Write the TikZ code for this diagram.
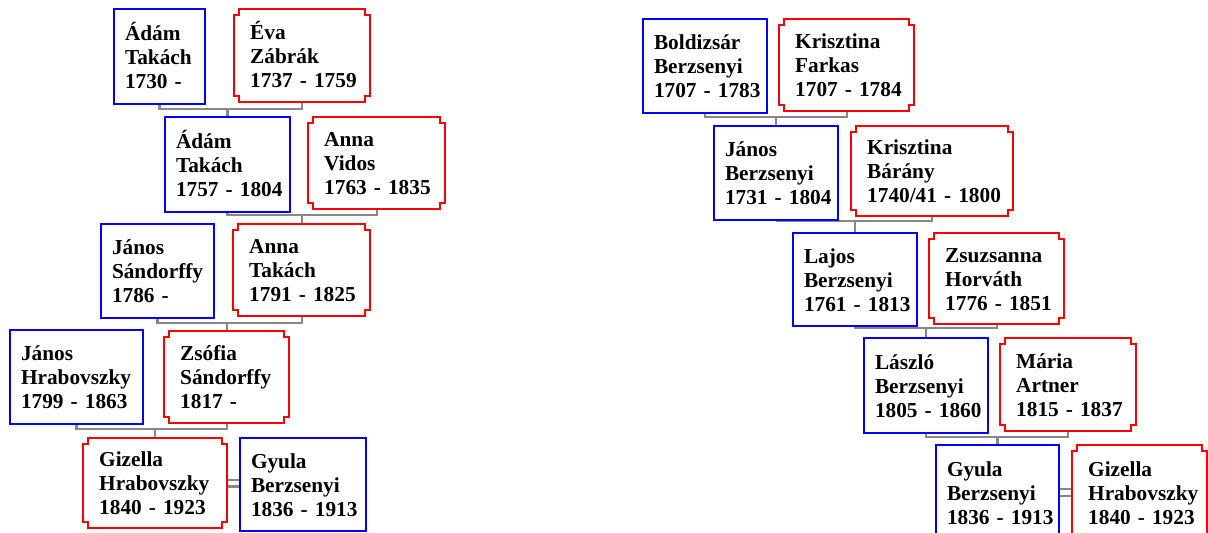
\documentclass[tikz,border=0pt]{standalone}
\usepackage{fontspec}
\setmainfont{Liberation Serif}
\usetikzlibrary{calc}
\pgfdeclarelayer{bg}
\pgfsetlayers{bg,main}

\definecolor{manblue}{RGB}{0,0,255}
\definecolor{womanred}{RGB}{255,0,0}
\definecolor{linkgray}{RGB}{136,136,136}

% three unbreakable lines of a person card, with fixed top and bottom struts
\newcommand\person[3]{\mbox{\rule{0pt}{20pt}#1}\\\mbox{#2}\\\mbox{#3\rule[-5pt]{0pt}{5pt}}}

% parents #1 and #2, child #3, joining bar at height #4
\newcommand\family[4]{%
  \coordinate (j#3) at (#3.north |- 0,#4);
  \draw[conn] (#1.south) |- (j#3) -| (#2.south);
  \draw[conn] (j#3) -- (#3.north);}

\tikzset{
  card/.style 2 args={anchor=north west, minimum width=#1pt, minimum height=#2pt,
    inner ysep=0pt, align=left, font=\fontsize{21.3}{24}\selectfont\bfseries},
  man/.code 2 args={\pgfmathsetlengthmacro\cardtw{#1pt-22pt}%
    \tikzset{card={#1}{#2}, draw=manblue, line width=2pt, inner xsep=11pt,
      text width/.expanded=\cardtw}},
  woman/.code 2 args={\pgfmathsetlengthmacro\cardtw{#1pt-32pt}%
    \tikzset{card={#1}{#2}, inner xsep=16pt, text width/.expanded=\cardtw}},
  womanframe/.style={draw=womanred, line width=2pt},
  conn/.style={draw=linkgray, line width=2.4pt},
  wed/.style={draw=linkgray, line width=2.2pt, double=white, double distance=4.3pt},
}

\begin{document}
\begin{tikzpicture}[x=1pt,y=-1pt]
\useasboundingbox (0,0) rectangle (1208,533);

% Takách / Sándorffy / Hrabovszky line
\node[man={91}{95}]    (a1)  at (113,8)   {\person{Ádám}{Takách}{1730 -}};
\node[woman={136}{93}] (a2)  at (234,9)   {\person{Éva}{Zábrák}{1737 - 1759}};
\node[man={125}{95}]   (a3)  at (164,116) {\person{Ádám}{Takách}{1757 - 1804}};
\node[woman={137}{92}] (a4)  at (308,117) {\person{Anna}{Vidos}{1763 - 1835}};
\node[man={113}{94}]   (a5)  at (100,223) {\person{János}{Sándorffy}{1786 -}};
\node[woman={137}{92}] (a6)  at (233,224) {\person{Anna}{Takách}{1791 - 1825}};
\node[man={133}{94}]   (a7)  at (9,329)   {\person{János}{Hrabovszky}{1799 - 1863}};
\node[woman={125}{92}] (a8)  at (164,331) {\person{Zsófia}{Sándorffy}{1817 -}};
\node[woman={144}{90}] (a9)  at (83,438)  {\person{Gizella}{Hrabovszky}{1840 - 1923}};
\node[man={126}{93}]   (a10) at (239,437) {\person{Gyula}{Berzsenyi}{1836 - 1913}};

% Berzsenyi line
\node[man={124}{94}]   (b1)  at (642,18)   {\person{Boldizsár}{Berzsenyi}{1707 - 1783}};
\node[woman={135}{92}] (b2)  at (779,19)   {\person{Krisztina}{Farkas}{1707 - 1784}};
\node[man={124}{94}]   (b3)  at (713,125)  {\person{János}{Berzsenyi}{1731 - 1804}};
\node[woman={162}{90}] (b4)  at (851,126)  {\person{Krisztina}{Bárány}{1740/41 - 1800}};
\node[man={124}{93}]   (b5)  at (792,232)  {\person{Lajos}{Berzsenyi}{1761 - 1813}};
\node[woman={135}{91}] (b6)  at (929,233)  {\person{Zsuzsanna}{Horváth}{1776 - 1851}};
\node[man={124}{95}]   (b7)  at (863,337)  {\person{László}{Berzsenyi}{1805 - 1860}};
\node[woman={136}{93}] (b8)  at (1000,338) {\person{Mária}{Artner}{1815 - 1837}};
\node[man={123}{95}]   (b9)  at (935,444)  {\person{Gyula}{Berzsenyi}{1836 - 1913}};
\node[woman={135}{95}] (b10) at (1072,445) {\person{Gizella}{Hrabovszky}{1840 - 1923}};

% notched frames of the women's cards
\foreach \n in {a2,a4,a6,a8,a9,b2,b4,b6,b8,b10}
  \draw[womanframe] ($(\n.north west)+(5,0)$) -- ($(\n.north east)+(-5,0)$)
    -- ++(0,6) -- ++(5,0) -- ($(\n.south east)+(0,-6)$) -- ++(-5,0) -- ++(0,6)
    -- ($(\n.south west)+(5,0)$) -- ++(0,-6) -- ++(-5,0)
    -- ($(\n.north west)+(0,6)$) -- ++(5,0) -- cycle;

% descent and marriage lines
\begin{pgfonlayer}{bg}
  \family{a1}{a2}{a3}{109}
  \family{a3}{a4}{a6}{215}
  \family{a5}{a6}{a8}{323}
  \family{a7}{a8}{a9}{429}
  \family{b1}{b2}{b3}{117}
  \family{b3}{b4}{b5}{221}
  \family{b5}{b6}{b7}{328}
  \family{b7}{b8}{b9}{437}
  \draw[wed] (a9.east) -- (a10.west |- a9.east);
  \draw[wed] (b9.east) -- (b10.west |- b9.east);
\end{pgfonlayer}
\end{tikzpicture}
\end{document}
